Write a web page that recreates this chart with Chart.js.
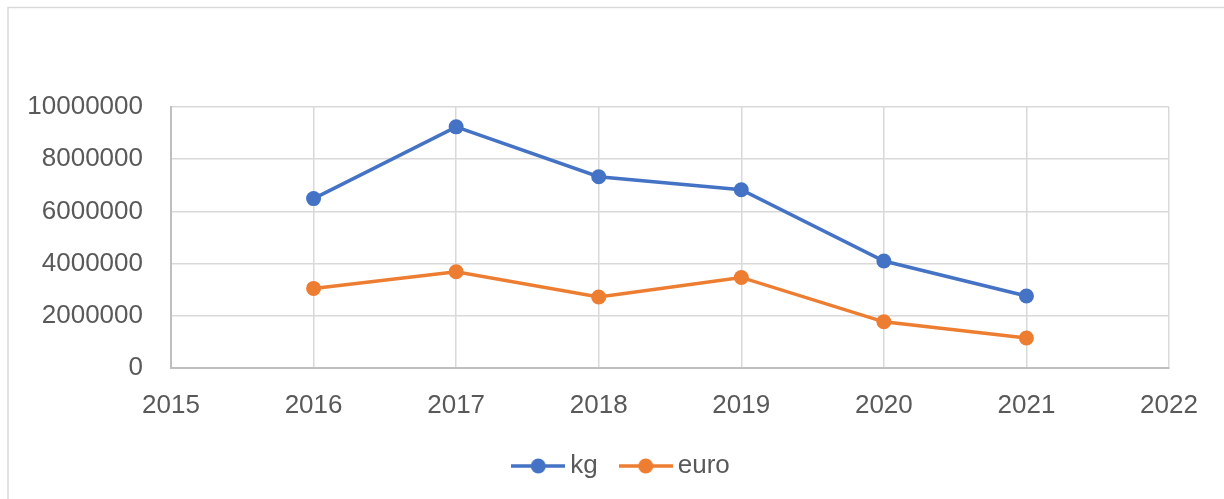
<!DOCTYPE html>
<html>
<head>
<meta charset="utf-8">
<script src="https://cdn.jsdelivr.net/npm/chart.js@4"></script>
<style>
  html, body { margin: 0; padding: 0; background: #ffffff; }
  #wrap { width: 1224px; height: 499px; position: relative; }
</style>
</head>
<body>
<div id="wrap"><canvas id="chart" width="1224" height="499"></canvas></div>
<script>
const years = [2016, 2017, 2018, 2019, 2020, 2021];
const kgValues = [6490000, 9240000, 7330000, 6830000, 4100000, 2760000];
const euroValues = [3050000, 3690000, 2720000, 3470000, 1770000, 1150000];
const yTicks = [0, 2000000, 4000000, 6000000, 8000000, 10000000];
const xTicks = [2015, 2016, 2017, 2018, 2019, 2020, 2021, 2022];

const BLUE = "#4472C4";
const ORANGE = "#ED7D31";
const GRID = "#d9d9d9";
const TEXT = "#595959";
const FONT = "'Liberation Sans', Arial, sans-serif";

function toPoints(values) {
  return years.map((year, i) => ({ x: year, y: values[i] }));
}

// legend marker: short line with a dot in the middle
function legendMarker(color) {
  const c = document.createElement("canvas");
  c.width = 54;
  c.height = 16;
  const ctx = c.getContext("2d");
  ctx.strokeStyle = color;
  ctx.lineWidth = 3.5;
  ctx.beginPath();
  ctx.moveTo(0, 8);
  ctx.lineTo(54, 8);
  ctx.stroke();
  ctx.fillStyle = color;
  ctx.beginPath();
  ctx.arc(27, 8, 7.5, 0, Math.PI * 2);
  ctx.fill();
  return c;
}

const outerBorder = {
  id: "outerBorder",
  beforeDraw(chart) {
    const ctx = chart.ctx;
    ctx.save();
    ctx.strokeStyle = GRID;
    ctx.lineWidth = 1.5;
    ctx.strokeRect(8, 7.5, 1230, 500);
    ctx.restore();
  }
};

// the legend sits a little right of the plot centre in the original
const legendShift = {
  id: "legendShift",
  afterLayout(chart) {
    if (!chart.legend) return;
    chart.legend.left += 35;
    chart.legend.right += 35;
  }
};

new Chart(document.querySelector("#chart"), {
  type: "line",
  data: {
    datasets: [
      {
        label: "kg",
        data: toPoints(kgValues),
        borderColor: BLUE,
        backgroundColor: BLUE,
        borderWidth: 3.5,
        pointRadius: 7.5,
        pointHoverRadius: 7.5,
        pointBorderWidth: 0,
        tension: 0
      },
      {
        label: "euro",
        data: toPoints(euroValues),
        borderColor: ORANGE,
        backgroundColor: ORANGE,
        borderWidth: 3.5,
        pointRadius: 7.5,
        pointHoverRadius: 7.5,
        pointBorderWidth: 0,
        tension: 0
      }
    ]
  },
  options: {
    responsive: false,
    animation: false,
    layout: {
      padding: { left: 10, right: 55, top: 107, bottom: 10 }
    },
    plugins: {
      tooltip: { enabled: false },
      legend: {
        position: "bottom",
        labels: {
          color: TEXT,
          font: { family: FONT, size: 26 },
          usePointStyle: true,
          pointStyleWidth: 38,
          padding: 29,
          generateLabels(chart) {
            return chart.data.datasets.map((ds, i) => ({
              text: ds.label,
              fontColor: TEXT,
              pointStyle: legendMarker(ds.borderColor),
              lineWidth: 0,
              strokeStyle: ds.borderColor,
              fillStyle: ds.borderColor,
              datasetIndex: i
            }));
          }
        }
      }
    },
    scales: {
      x: {
        type: "linear",
        min: xTicks[0],
        max: xTicks[xTicks.length - 1],
        afterBuildTicks(scale) {
          scale.ticks = xTicks.map(v => ({ value: v }));
        },
        afterFit(scale) {
          scale.height = 56;
        },
        ticks: {
          color: TEXT,
          font: { family: FONT, size: 26 },
          padding: 22,
          maxRotation: 0,
          callback: v => String(v)
        },
        grid: { color: GRID, lineWidth: 1.5, drawTicks: false },
        border: { color: "#bfbfbf", width: 2 }
      },
      y: {
        min: 0,
        max: 10000000,
        afterBuildTicks(scale) {
          scale.ticks = yTicks.map(v => ({ value: v }));
        },
        afterFit(scale) {
          scale.width = 161;
        },
        ticks: {
          color: TEXT,
          font: { family: FONT, size: 26 },
          padding: 28,
          callback: v => String(v)
        },
        grid: { color: GRID, lineWidth: 1.5, drawTicks: false },
        border: { color: "#bfbfbf", width: 2 }
      }
    }
  },
  plugins: [outerBorder, legendShift]
});
</script>
</body>
</html>
